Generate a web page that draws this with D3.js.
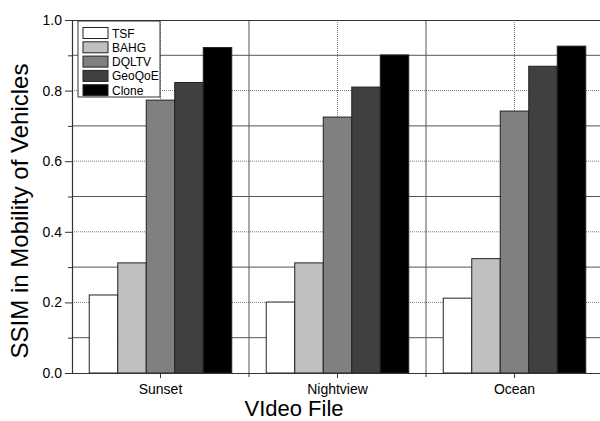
<!DOCTYPE html>
<html>
<head>
<meta charset="utf-8">
<script src="https://cdn.jsdelivr.net/npm/d3@7"></script>
<style>
  html, body { margin: 0; padding: 0; background: #fff; }
  svg { display: block; font-family: "Liberation Sans", Arial, sans-serif; }
</style>
</head>
<body>
<svg id="chart" width="600" height="421"></svg>
<script>
// Video files on the x axis and the compared schemes
const categories = ["Sunset", "Nightview", "Ocean"];
const seriesNames = ["TSF", "BAHG", "DQLTV", "GeoQoE", "Clone"];
const seriesColors = ["#ffffff", "#c0c0c0", "#808080", "#404040", "#000000"];

// SSIM per scheme, one value per video file
const tsf    = [0.221, 0.201, 0.212];
const bahg   = [0.312, 0.312, 0.324];
const dqltv  = [0.773, 0.725, 0.742];
const geoqoe = [0.823, 0.810, 0.869];
const clone  = [0.922, 0.901, 0.926];
const seriesValues = [tsf, bahg, dqltv, geoqoe, clone];

const yMajorTicks = [0.0, 0.2, 0.4, 0.6, 0.8, 1.0];
const yMinorTicks = [0.1, 0.3, 0.5, 0.7, 0.9];

const FONT = "'Liberation Sans', Arial, sans-serif";
const svg = d3.select("#chart");
const plotLeft = 72, plotRight = 603, plotTop = 20, plotBottom = 373;

const x = d3.scaleBand().domain(categories).range([plotLeft, plotRight]).padding(0);
const xInner = d3.scaleBand().domain(seriesNames)
  .range([0, x.bandwidth()]).paddingInner(0).paddingOuter(0.605);
const y = d3.scaleLinear().domain([0, 1]).range([plotBottom, plotTop]);

// Horizontal grid lines
const grid = svg.append("g");
grid.selectAll("line.hmin").data(yMinorTicks).join("line")
  .attr("x1", plotLeft).attr("x2", plotRight)
  .attr("y1", d => y(d)).attr("y2", d => y(d))
  .attr("stroke", "#555").attr("stroke-width", 1);
grid.selectAll("line.hmaj").data(yMajorTicks.filter(d => d > 0 && d < 1)).join("line")
  .attr("x1", plotLeft).attr("x2", plotRight)
  .attr("y1", d => y(d)).attr("y2", d => y(d))
  .attr("stroke", "#777").attr("stroke-width", 1).attr("stroke-dasharray", "1,1");
// Vertical grid: solid at group boundaries, dotted at group centres
const bounds = categories.slice(1).map(c => x(c));
grid.selectAll("line.vb").data(bounds).join("line")
  .attr("x1", d => d).attr("x2", d => d).attr("y1", plotTop).attr("y2", plotBottom)
  .attr("stroke", "#555").attr("stroke-width", 1);
grid.selectAll("line.vc").data(categories).join("line")
  .attr("x1", d => x(d) + x.bandwidth() / 2).attr("x2", d => x(d) + x.bandwidth() / 2)
  .attr("y1", plotTop).attr("y2", plotBottom)
  .attr("stroke", "#777").attr("stroke-width", 1).attr("stroke-dasharray", "1,1");

// Bars
const groups = svg.append("g").selectAll("g").data(categories).join("g")
  .attr("transform", d => `translate(${x(d)},0)`);
groups.selectAll("rect")
  .data((c, ci) => seriesNames.map((s, si) => ({ s, si, v: seriesValues[si][ci] })))
  .join("rect")
  .attr("x", d => xInner(d.s))
  .attr("width", xInner.bandwidth())
  .attr("y", d => y(d.v))
  .attr("height", d => y(0) - y(d.v))
  .attr("fill", d => seriesColors[d.si])
  .attr("stroke", "#222").attr("stroke-width", 1);

// Frame: top border
svg.append("line").attr("x1", plotLeft).attr("x2", plotRight).attr("y1", plotTop + 0.5).attr("y2", plotTop + 0.5)
  .attr("stroke", "#333").attr("stroke-width", 1.2);

// Y axis with major (labelled) and minor ticks
const yAxis = svg.append("g").attr("transform", `translate(${plotLeft},0)`)
  .call(d3.axisLeft(y).tickValues(yMajorTicks).tickFormat(d3.format(".1f")).tickSize(7).tickPadding(3));
yAxis.selectAll("text").attr("font-size", 14).attr("fill", "#000").attr("font-family", FONT);
yAxis.selectAll("line").attr("stroke", "#333");
yAxis.select(".domain").attr("stroke", "#333").attr("stroke-width", 1.2);
svg.append("g").attr("transform", `translate(${plotLeft},0)`)
  .call(d3.axisLeft(y).tickValues(yMinorTicks).tickFormat("").tickSize(4))
  .call(g => g.select(".domain").remove())
  .selectAll("line").attr("stroke", "#333");

// X axis: labelled ticks at centres, short ticks at boundaries
const xAxis = svg.append("g").attr("transform", `translate(0,${plotBottom})`)
  .call(d3.axisBottom(x).tickSize(5).tickPadding(6).tickSizeOuter(0));
xAxis.selectAll("text").attr("font-size", 14).attr("fill", "#000").attr("font-family", FONT);
xAxis.selectAll("line").attr("stroke", "#333");
xAxis.select(".domain").attr("stroke", "#333").attr("stroke-width", 1.2);
svg.append("g").selectAll("line").data(bounds).join("line")
  .attr("x1", d => d).attr("x2", d => d).attr("y1", plotBottom).attr("y2", plotBottom + 4)
  .attr("stroke", "#333");

// Axis titles
svg.append("text").attr("x", 294).attr("y", 416).attr("text-anchor", "middle")
  .attr("font-family", FONT).attr("font-size", 22).text("VIdeo File");
svg.append("text").attr("transform", "translate(28,211) rotate(-90)").attr("text-anchor", "middle")
  .attr("font-family", FONT).attr("font-size", 24).text("SSIM in Mobility of Vehicles");

// Legend
const lg = svg.append("g").attr("transform", "translate(78,21)");
lg.append("rect").attr("width", 82).attr("height", 76).attr("fill", "#fff")
  .attr("stroke", "#333").attr("stroke-width", 1);
const items = lg.selectAll("g").data(seriesNames).join("g")
  .attr("transform", (d, i) => `translate(5,${6.5 + i * 14.3})`);
items.append("rect").attr("width", 25).attr("height", 11)
  .attr("fill", (d, i) => seriesColors[i]).attr("stroke", "#222").attr("stroke-width", 1);
items.append("text").attr("x", 29).attr("y", 10).attr("font-family", FONT)
  .attr("font-size", 12).text(d => d);
</script>
</body>
</html>
